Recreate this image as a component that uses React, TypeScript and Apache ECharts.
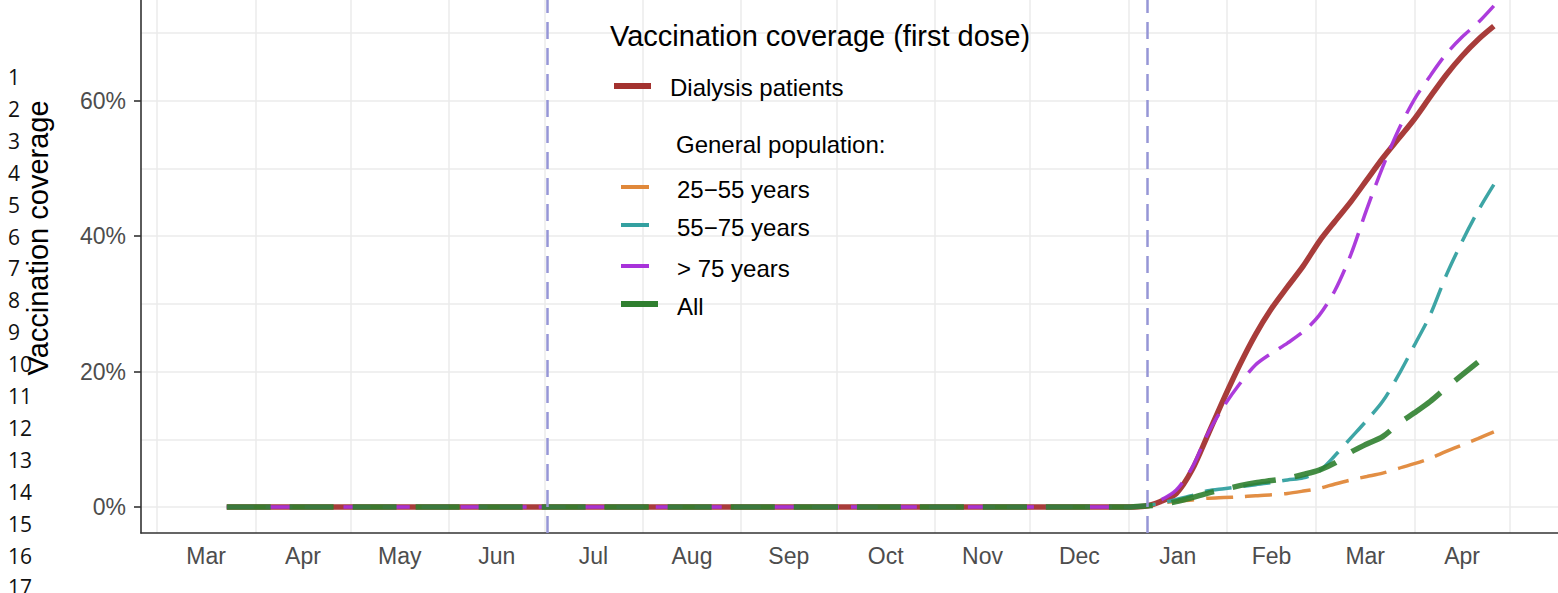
import React, { useEffect, useRef } from "react";
import * as echarts from "echarts";

// ---------- data ----------
const flatStart = "2020-03-23";
const dates2021 = [
  "2021-01-01", "2021-01-06", "2021-01-11", "2021-01-16", "2021-01-21", "2021-01-26",
  "2021-01-31", "2021-02-05", "2021-02-10", "2021-02-15", "2021-02-20", "2021-02-25",
  "2021-03-02", "2021-03-07", "2021-03-12", "2021-03-17", "2021-03-22", "2021-03-27",
  "2021-04-01", "2021-04-06", "2021-04-11", "2021-04-16", "2021-04-21", "2021-04-26",
];
const dialysis = [0, 0.1, 0.8, 2.0, 5.5, 10.7, 16.0, 21.0, 25.5, 29.3, 32.5, 35.6, 39.2, 42.2, 45.1, 48.3, 51.5, 54.4, 57.3, 60.6, 63.8, 66.6, 69.0, 71.0];
const age25to55 = [0, 0.15, 0.55, 0.85, 1.05, 1.3, 1.4, 1.5, 1.65, 1.8, 2.0, 2.35, 2.75, 3.4, 4.0, 4.5, 5.0, 5.7, 6.4, 7.2, 8.2, 9.15, 10.1, 11.1];
const age55to75 = [0, 0.2, 0.55, 1.1, 1.7, 2.4, 2.7, 3.0, 3.3, 3.6, 4.0, 4.3, 5.3, 7.6, 10.2, 12.8, 15.6, 19.5, 23.9, 28.4, 34.2, 39.2, 43.7, 47.6];
const over75 = [0, 0.2, 1.0, 2.5, 5.8, 10.9, 14.9, 18.2, 21.0, 22.7, 24.2, 25.9, 28.3, 32.0, 37.3, 44.0, 50.2, 55.7, 60.2, 63.7, 66.9, 69.4, 71.5, 74.0];
const allPop = [0, 0.15, 0.35, 0.8, 1.4, 2.05, 2.6, 3.15, 3.6, 3.9, 4.25, 4.8, 5.45, 6.5, 8.1, 9.3, 10.4, 12.3, 13.9, 15.6, 17.6, 19.5, 21.4];

const monthLabels = ["Jan", "Feb", "Mar", "Apr", "May", "Jun", "Jul", "Aug", "Sep", "Oct", "Nov", "Dec"];
const yLabelValues = [0, 20, 40, 60];
const yGridValues = [0, 10, 20, 30, 40, 50, 60, 70];
const studyDates = ["2020-07-02", "2021-01-07"];
const lineNumbers = [1, 2, 3, 4, 5, 6, 7, 8, 9, 10, 11, 12, 13, 14, 15, 16, 17];

// ---------- helpers ----------
function ts(s: string): number {
  const [y, m, d] = s.split("-").map(Number);
  return new Date(y, m - 1, d).getTime();
}

const monthStarts: number[] = [];
for (let k = 0; k <= 14; k++) monthStarts.push(new Date(2020, 2 + k, 1).getTime());
const midMonths: number[] = [];
for (let k = 0; k < monthStarts.length - 1; k++) midMonths.push((monthStarts[k] + monthStarts[k + 1]) / 2);

function build(values: number[], withFlat: boolean) {
  const pts: [number, number][] = [];
  if (withFlat) pts.push([ts(flatStart), 0]);
  values.forEach((v, i) => pts.push([ts(dates2021[i]), v]));
  return pts;
}

const FONT = "Liberation Sans";

export default function App() {
  const ref = useRef<HTMLDivElement>(null);

  useEffect(() => {
    if (!ref.current) return;
    const chart = echarts.init(ref.current, null, { renderer: "svg" });

    const yMin = -3.84;
    const yMax = 74.87;

    const graphic: any[] = [];
    lineNumbers.forEach((n, i) => {
      graphic.push({
        type: "text",
        z: 100,
        x: 8,
        y: 77 + 31.9 * i,
        style: { text: String(n), fontSize: 21, fontFamily: "Open Sans", fill: "#111", align: "left", verticalAlign: "middle" },
      });
    });
    graphic.push({
      type: "text",
      z: 100,
      x: 38,
      y: 238,
      rotation: Math.PI / 2,
      style: { text: "Vaccination coverage", fontSize: 29, fontFamily: FONT, fill: "#000", align: "center", verticalAlign: "middle" },
    });
    const txt = (text: string, x: number, y: number, size: number) => ({
      type: "text",
      z: 100,
      x,
      y,
      style: { text, fontSize: size, fontFamily: FONT, fill: "#000", align: "left", verticalAlign: "middle" },
    });
    const sw = (x1: number, x2: number, y: number, color: string, h: number) => ({
      type: "rect",
      z: 100,
      shape: { x: x1, y: y - h / 2, width: x2 - x1, height: h },
      style: { fill: color },
    });
    graphic.push(txt("Vaccination coverage (first dose)", 610, 36, 29));
    graphic.push(sw(614, 651, 86, "#A3322F", 6));
    graphic.push(txt("Dialysis patients", 670, 87, 24));
    graphic.push(txt("General population:", 676, 144, 24));
    graphic.push(sw(621, 649, 187, "#E0883A", 4));
    graphic.push(txt("25\u221255 years", 677, 189, 24));
    graphic.push(sw(621, 649, 225, "#33A0A0", 4));
    graphic.push(txt("55\u221275 years", 677, 227, 24));
    graphic.push(sw(621, 649, 266, "#A832DA", 4));
    graphic.push(txt("> 75 years", 677, 268, 24));
    graphic.push(sw(621, 658, 304, "#2F7F2F", 6));
    graphic.push(txt("All", 677, 306, 24));

    const axisColor = "#333333";
    const gridColor = "#EBEBEB";

    const option: any = {
      animation: false,
      grid: { left: 141, right: 0, top: 0, bottom: 60, containLabel: false },
      xAxis: {
        type: "value",
        min: ts("2020-02-25"),
        max: new Date(2021, 4, 16, 5).getTime(),
        axisLine: { show: true, onZero: false, lineStyle: { color: axisColor, width: 1.6 } },
        axisTick: { show: false, customValues: monthStarts },
        axisLabel: {
          customValues: midMonths,
          formatter: (v: number) => monthLabels[new Date(v).getMonth()],
          color: "#4D4D4D",
          fontSize: 23,
          fontFamily: FONT,
          margin: 11,
          hideOverlap: false,
          showMinLabel: true,
          showMaxLabel: true,
        },
        splitLine: { show: true, lineStyle: { color: gridColor, width: 1.5 } },
      },
      yAxis: [
        {
          type: "value",
          min: yMin,
          max: yMax,
          splitNumber: 8,
          axisLine: { show: true, onZero: false, lineStyle: { color: axisColor, width: 1.6 } },
          axisTick: { show: false, customValues: yGridValues },
          axisLabel: {
            customValues: yLabelValues,
            formatter: "{value}%",
            color: "#4D4D4D",
            fontSize: 23,
            fontFamily: FONT,
            margin: 15,
          },
          splitLine: { show: true, lineStyle: { color: gridColor, width: 1.5 } },
        },
        {
          type: "value",
          min: yMin,
          max: yMax,
          position: "left",
          axisLine: { show: false, onZero: false },
          axisTick: { show: true, length: 7, customValues: yLabelValues, lineStyle: { color: axisColor, width: 1.6 } },
          axisLabel: { show: false },
          splitLine: { show: false },
        },
      ],
      graphic,
      series: [
        {
          name: "Dialysis patients",
          type: "line",
          data: build(dialysis, true),
          symbol: "none",
          silent: true,
          smooth: 0.3,
          lineStyle: { color: "#A3322F", width: 5.5, opacity: 0.95, cap: "butt" },
          markLine: {
            silent: true,
            symbol: ["none", "none"],
            label: { show: false },
            lineStyle: { color: "#9696D6", width: 2.5, type: [17, 9] },
            data: studyDates.map((d) => ({ xAxis: ts(d) })),
          },
        },
        {
          name: "25\u221255 years",
          type: "line",
          data: build(age25to55, false),
          symbol: "none",
          silent: true,
          smooth: 0.3,
          lineStyle: { color: "#E0883A", width: 3.5, type: [27, 12], cap: "butt", opacity: 0.95 },
        },
        {
          name: "55\u221275 years",
          type: "line",
          data: build(age55to75, false),
          symbol: "none",
          silent: true,
          smooth: 0.3,
          lineStyle: { color: "#33A0A0", width: 3.5, type: [27, 12], cap: "butt", opacity: 0.95 },
        },
        {
          name: "> 75 years",
          type: "line",
          data: build(over75, true),
          symbol: "none",
          silent: true,
          smooth: 0.3,
          lineStyle: { color: "#A832DA", width: 3.5, type: [27, 12], cap: "butt", opacity: 0.95 },
        },
        {
          name: "All",
          type: "line",
          data: build(allPop, true),
          symbol: "none",
          silent: true,
          smooth: 0.3,
          lineStyle: { color: "#2F7F2F", width: 5.5, type: [44, 19], cap: "butt", opacity: 0.9 },
        },
      ],
    };

    chart.setOption(option);
    return () => chart.dispose();
  }, []);

  return <div ref={ref} style={{ position: "absolute", left: 0, top: 0, width: 1558, height: 593 }} />;
}
